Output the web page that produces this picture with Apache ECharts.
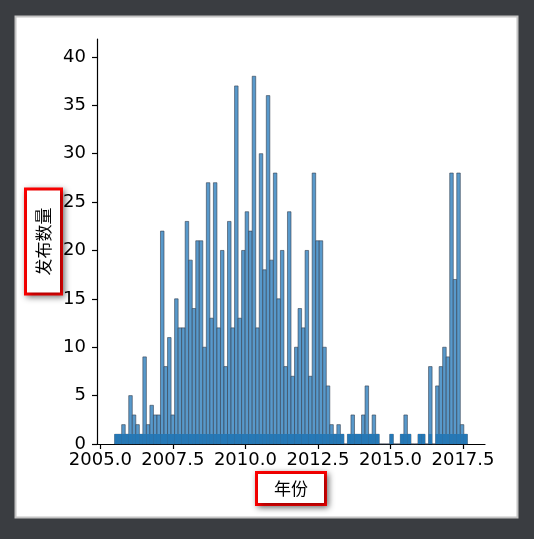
<!DOCTYPE html>
<html>
<head>
<meta charset="utf-8">
<script src="https://cdn.jsdelivr.net/npm/echarts@6/dist/echarts.min.js"></script>
<style>
html,body{margin:0;padding:0;background:#3a3d41;}
#chart{width:534px;height:539px;}
</style>
</head>
<body>
<div id="chart"></div>
<script>
// Histogram bin structure (years)
const binStart = 2005.493;
const binEnd = 2017.651;
const binCount = 100;
// Counts per bin
const counts = [
  1, 1, 2, 1, 5, 3, 2, 1, 9, 2,
  4, 3, 3, 22, 8, 11, 3, 15, 12, 12,
  23, 19, 14, 21, 21, 10, 27, 13, 27, 12,
  20, 8, 23, 12, 37, 13, 20, 24, 22, 38,
  12, 30, 18, 36, 19, 28, 15, 20, 8, 24,
  7, 10, 14, 12, 20, 7, 28, 21, 21, 10,
  6, 2, 1, 2, 1, 0, 1, 3, 1, 1,
  3, 6, 1, 3, 1, 0, 0, 0, 1, 0,
  0, 1, 3, 1, 0, 0, 1, 1, 0, 8,
  0, 6, 8, 10, 9, 28, 17, 28, 2, 1
];
const xTicks = [2005.0, 2007.5, 2010.0, 2012.5, 2015.0, 2017.5];
const yTicks = [0, 5, 10, 15, 20, 25, 30, 35, 40];
const xName = '年份';
const yName = '发布数量';

const binW = (binEnd - binStart) / binCount;
const histData = counts.map((c, i) => [binStart + i * binW, binStart + (i + 1) * binW, c]);
const rugData = histData.filter(d => d[2] > 0);

const chart = echarts.init(document.getElementById('chart'), null, {renderer: 'canvas'});
const font = 'DejaVu Sans';
const nameStyle = {
  fontFamily: 'Noto Sans CJK SC',
  fontSize: 17,
  color: '#000',
  backgroundColor: '#fff',
  borderColor: '#ff0000',
  borderWidth: 3,
  shadowBlur: 6,
  shadowColor: 'rgba(0,0,0,0.45)',
  shadowOffsetX: 2,
  shadowOffsetY: 2
};
chart.setOption({
  animation: false,
  backgroundColor: '#3a3d41',
  graphic: [{
    type: 'rect', z: -10, silent: true,
    shape: {x: 15.5, y: 16.5, width: 502, height: 501},
    style: {fill: '#ffffff', stroke: '#c4c4c4', lineWidth: 2}
  }],
  grid: {left: 97, right: 49, top: 39, bottom: 95, containLabel: false},
  xAxis: {
    type: 'value', min: 2004.885, max: 2018.259,
    name: xName, nameLocation: 'middle', nameGap: 30, nameMoveOverlap: false,
    nameTextStyle: Object.assign({}, nameStyle, {padding: [6, 16, 6, 16]}),
    splitLine: {show: false},
    axisLine: {show: true, onZero: false, lineStyle: {color: '#000', width: 1.2}},
    axisTick: {show: true, length: 5, lineStyle: {color: '#000', width: 1.2}, customValues: xTicks},
    axisLabel: {show: true, customValues: xTicks, margin: 7, fontFamily: font, fontSize: 18, color: '#000',
      formatter: v => Number(v).toFixed(1)}
  },
  yAxis: {
    type: 'value', min: 0, max: 41.85,
    name: yName, nameLocation: 'middle', nameGap: 37, nameRotate: 90, nameMoveOverlap: false,
    nameTextStyle: Object.assign({}, nameStyle, {padding: [8, 17, 8, 17]}),
    splitLine: {show: false},
    axisLine: {show: true, lineStyle: {color: '#000', width: 1.2}},
    axisTick: {show: true, length: 5, lineStyle: {color: '#000', width: 1.2}, customValues: yTicks},
    axisLabel: {show: true, customValues: yTicks, margin: 11, fontFamily: font, fontSize: 18, color: '#000'}
  },
  series: [{
    type: 'custom',
    data: histData,
    encode: {x: [0, 1], y: 2},
    z: 2,
    renderItem: function (params, api) {
      const p0 = api.coord([api.value(0), api.value(2)]);
      const p1 = api.coord([api.value(1), 0]);
      return {
        type: 'rect',
        shape: {x: p0[0], y: p0[1], width: p1[0] - p0[0], height: p1[1] - p0[1]},
        style: {fill: '#5899cb', stroke: 'rgba(50,60,75,0.65)', lineWidth: 0.9}
      };
    }
  }, {
    type: 'custom',
    data: rugData,
    encode: {x: [0, 1], y: 2},
    z: 3,
    renderItem: function (params, api) {
      const p0 = api.coord([api.value(0), 0]);
      const p1 = api.coord([api.value(1), 0]);
      return {
        type: 'rect',
        shape: {x: p0[0], y: p0[1] - 10, width: p1[0] - p0[0], height: 10},
        style: {fill: '#2578b6'}
      };
    }
  }]
});
</script>
</body>
</html>
